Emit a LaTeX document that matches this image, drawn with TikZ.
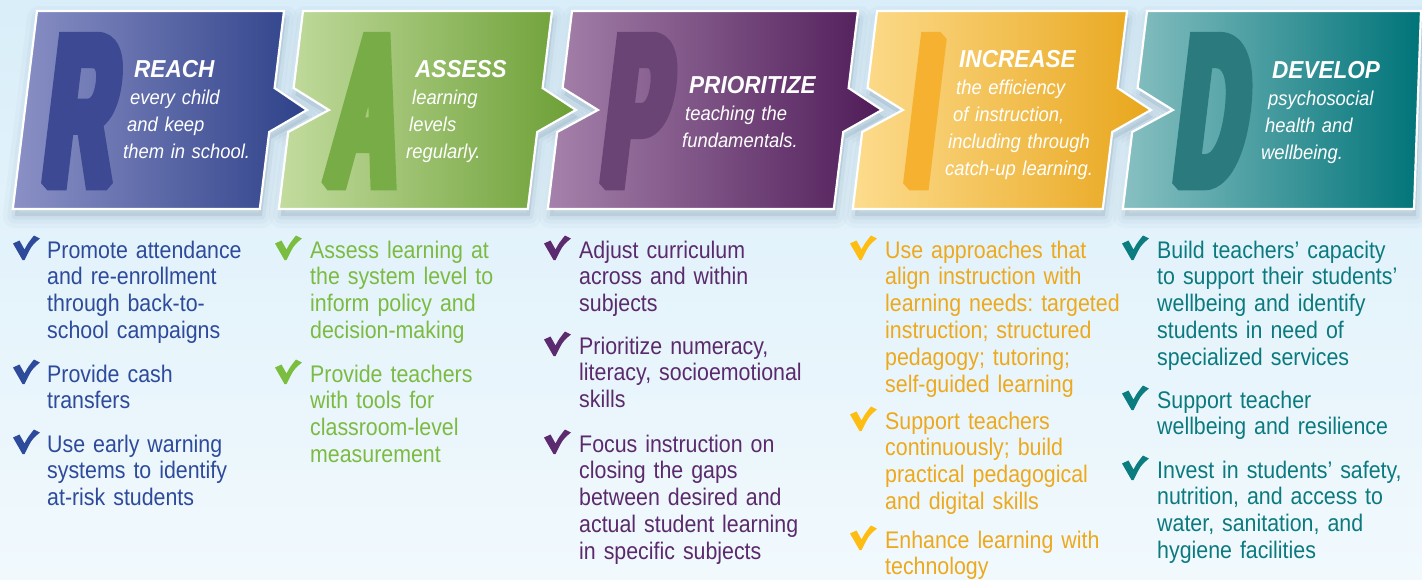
\documentclass[tikz,border=0pt]{standalone}
\usepackage{fontspec}
\setmainfont{Liberation Sans}
\newfontfamily\listfont[FakeStretch=0.89]{Liberation Sans}
\newfontfamily\headfont[FakeStretch=0.92]{Liberation Sans}
\newfontfamily\bigfont[FakeStretch=0.44,FakeSlant=0.12,FakeBold=6]{Liberation Sans}
\frenchspacing
\hyphenpenalty=10000
\definecolor{bgtop}{HTML}{D9EEF9}
\definecolor{bgbot}{HTML}{F1F9FD}
\definecolor{shadowc}{HTML}{5F7F95}
\definecolor{RL}{HTML}{8B91C6}\definecolor{RR}{HTML}{2E4189}
\definecolor{AL}{HTML}{C3DC9F}\definecolor{AR}{HTML}{6C9F35}
\definecolor{PL}{HTML}{A582AB}\definecolor{PR}{HTML}{4F1B58}
\definecolor{IL}{HTML}{FDDC8E}\definecolor{IR}{HTML}{E8A61C}
\definecolor{DL}{HTML}{88C0C2}\definecolor{DR}{HTML}{007479}
\definecolor{bigR}{HTML}{3D4A93}
\definecolor{bigA}{HTML}{78AC47}
\definecolor{bigP}{HTML}{6A4474}
\definecolor{bigI}{HTML}{F7B130}
\definecolor{bigD}{HTML}{2B7B7E}
\definecolor{txtR}{HTML}{2D4A9B}
\definecolor{txtA}{HTML}{7CBB42}
\definecolor{txtP}{HTML}{5A2A6C}
\definecolor{txtI}{HTML}{EDA91C}
\definecolor{txtD}{HTML}{0B7A7F}
\definecolor{ckR}{HTML}{2E4A9A}
\definecolor{ckA}{HTML}{7BBE3F}
\definecolor{ckP}{HTML}{5C2A6F}
\definecolor{ckI}{HTML}{FDBD12}
\definecolor{ckD}{HTML}{0B7C80}
\def\pathR{(37,11) -- (284,11) -- (274.6,88) -- (307,110) -- (269.2,132) -- (259.8,209) -- (12.8,209) -- cycle}
\def\pathA{(303,11) -- (552,11) -- (542.6,88) -- (575.9,110) -- (537.2,132) -- (527.8,209) -- (278.8,209) -- (288.2,132) -- (328.9,110) -- (293.6,88) -- cycle}
\def\pathP{(572,11) -- (858,11) -- (848.6,88) -- (881.9,110) -- (843.2,132) -- (833.8,209) -- (547.8,209) -- (557.2,132) -- (597.9,110) -- (562.6,88) -- cycle}
\def\pathI{(877,11) -- (1127,11) -- (1117.6,88) -- (1150.9,110) -- (1112.2,132) -- (1102.8,209) -- (852.8,209) -- (862.2,132) -- (902.9,110) -- (867.6,88) -- cycle}
\def\pathD{(1147,11) -- (1421,11) -- (1414,209) -- (1122.8,209) -- (1132.2,132) -- (1172.9,110) -- (1137.6,88) -- cycle}
\tikzset{
  boxborder/.style={draw=white, line width=2.2pt, line join=miter},
  shadowlayer/.style={fill=shadowc, draw=shadowc, line join=round, opacity=#1},
  bigletter/.style={anchor=base west, inner sep=0pt, line join=miter, miter limit=1.5,
    font=\bigfont\bfseries\fontsize{212}{212}\selectfont},
  headtext/.style={anchor=base west, inner sep=0pt, align=left, text width=#1, text=white,
    font=\headfont\fontsize{20}{27}\selectfont\itshape},
  itemtext/.style={anchor=base west, inner sep=0pt, align=left, text width=#1,
    font=\listfont\fontsize{24}{26.8}\selectfont},
  pics/tick/.style={code={\fill[#1] (0,8.5) -- (6.5,5.5) -- (11.5,14.5) .. controls (15,8) .. (21,0.5) -- (27,3.5) .. controls (19,10) .. (11.5,25) -- (9.5,25) -- cycle;}}
}
\newcommand\headline[1]{{\fontsize{24.5}{27}\selectfont\bfseries #1}}
\begin{document}
\begin{tikzpicture}[x=1pt,y=-1pt]
\useasboundingbox (0,0) rectangle (1422,579);
\shade[top color=bgtop, bottom color=bgbot] (0,0) rectangle (1422,579);
% shadows
\foreach \w/\o in {24/0.04,15/0.05,7/0.07}{
  \path[shadowlayer=\o, line width=\w pt, shift={(2,7)}] \pathR;
  \path[shadowlayer=\o, line width=\w pt, shift={(2,7)}] \pathA;
  \path[shadowlayer=\o, line width=\w pt, shift={(2,7)}] \pathP;
  \path[shadowlayer=\o, line width=\w pt, shift={(2,7)}] \pathI;
  \path[shadowlayer=\o, line width=\w pt, shift={(2,7)}] \pathD;
}
% boxes
\shadedraw[left color=RL, right color=RR, boxborder] \pathR;
\shadedraw[left color=AL, right color=AR, boxborder] \pathA;
\shadedraw[left color=PL, right color=PR, boxborder] \pathP;
\shadedraw[left color=IL, right color=IR, boxborder] \pathI;
\shadedraw[left color=DL, right color=DR, boxborder] \pathD;
% big letters
\node[bigletter, text=bigR] (LR) at (41,184) {R};
\node[bigletter, text=bigA] (LA) at (325,184) {A};
\node[bigletter, text=bigP] (LP) at (599,184) {P};
\node[bigletter, text=bigI] (LI) at (903,184) {I};
\node[bigletter, text=bigD] (LD) at (1172,184) {D};
% headings
\node[headtext=150pt] (hR) at (134,77) {\headline{REACH}\\\hspace*{-4pt}every child\\\hspace*{-7pt}and keep\\\hspace*{-11pt}them in school.};
\node[headtext=130pt] (hA) at (415,77) {\headline{ASSESS}\\\hspace*{-3pt}learning\\\hspace*{-6pt}levels\\\hspace*{-9pt}regularly.};
\node[headtext=165pt] (hP) at (689,93) {\headline{PRIORITIZE}\\\hspace*{-4pt}teaching the\\\hspace*{-7pt}fundamentals.};
\node[headtext=170pt] (hI) at (959,67) {\headline{INCREASE}\\\hspace*{-3pt}the efficiency\\\hspace*{-6pt}of instruction,\\\hspace*{-11pt}including through\\\hspace*{-14pt}catch-up learning.};
\node[headtext=140pt] (hD) at (1272,78) {\headline{DEVELOP}\\\hspace*{-4pt}psychosocial\\\hspace*{-7pt}health and\\\hspace*{-11pt}wellbeing.};
% ticks
\pic (tR1) at (13,235) {tick=ckR};
\pic (tR2) at (13,359) {tick=ckR};
\pic (tR3) at (13,429) {tick=ckR};
\pic (tA1) at (275,235) {tick=ckA};
\pic (tA2) at (275,359) {tick=ckA};
\pic (tP1) at (544,235) {tick=ckP};
\pic (tP2) at (544,331) {tick=ckP};
\pic (tP3) at (544,429) {tick=ckP};
\pic (tI1) at (850,235) {tick=ckI};
\pic (tI2) at (850,406) {tick=ckI};
\pic (tI3) at (850,525) {tick=ckI};
\pic (tD1) at (1122,235) {tick=ckD};
\pic (tD2) at (1122,385) {tick=ckD};
\pic (tD3) at (1122,455) {tick=ckD};
% items
\node[itemtext=225pt, text=txtR] (r1) at (47,258) {Promote attendance\\and re-enrollment\\through back-to-\\school campaigns};
\node[itemtext=225pt, text=txtR] (r2) at (47,382) {Provide cash\\transfers};
\node[itemtext=225pt, text=txtR] (r3) at (47,452) {Use early warning\\systems to identify\\at-risk students};
\node[itemtext=230pt, text=txtA] (a1) at (310,258) {Assess learning at\\the system level to\\inform policy and\\decision-making};
\node[itemtext=230pt, text=txtA] (a2) at (310,382) {Provide teachers\\with tools for\\classroom-level\\measurement};
\node[itemtext=265pt, text=txtP] (p1) at (579,258) {Adjust curriculum\\across and within\\subjects};
\node[itemtext=265pt, text=txtP] (p2) at (579,354) {Prioritize numeracy,\\literacy, socioemotional\\skills};
\node[itemtext=265pt, text=txtP] (p3) at (579,452) {Focus instruction on\\closing the gaps\\between desired and\\actual student learning\\in specific subjects};
\node[itemtext=255pt, text=txtI] (i1) at (885,258) {Use approaches that\\align instruction with\\learning needs: targeted\\instruction; structured\\pedagogy; tutoring;\\self-guided learning};
\node[itemtext=255pt, text=txtI] (i2) at (885,429) {Support teachers\\continuously; build\\practical pedagogical\\and digital skills};
\node[itemtext=255pt, text=txtI] (i3) at (885,548) {Enhance learning with\\technology};
\node[itemtext=262pt, text=txtD] (d1) at (1157,258) {Build teachers’ capacity\\to support their students’\\wellbeing and identify\\students in need of\\specialized services};
\node[itemtext=262pt, text=txtD] (d2) at (1157,408) {Support teacher\\wellbeing and resilience};
\node[itemtext=262pt, text=txtD] (d3) at (1157,478) {Invest in students’ safety,\\nutrition, and access to\\water, sanitation, and\\hygiene facilities};
\end{tikzpicture}
\end{document}
